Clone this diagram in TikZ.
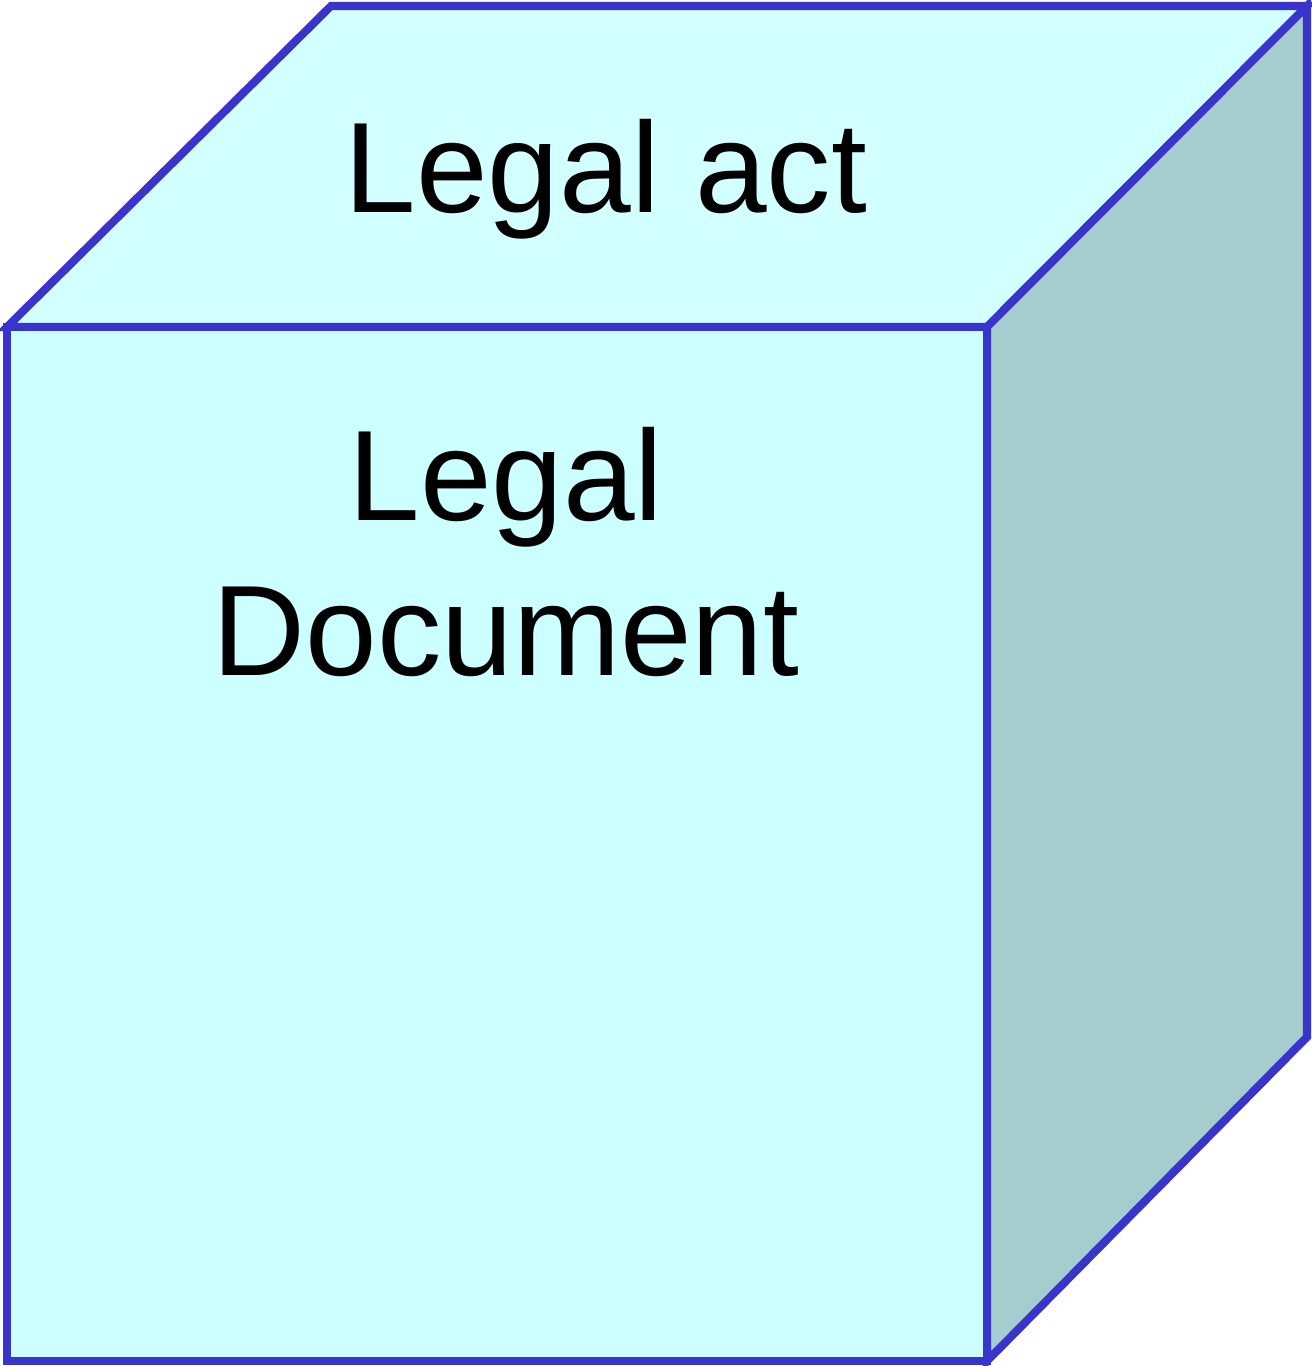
\documentclass[tikz,border=0pt]{standalone}
\usepackage{fontspec}
\setmainfont{Liberation Sans}
\usepackage{tikz}
\definecolor{edgeblue}{RGB}{56,52,204}
\definecolor{frontcyan}{RGB}{204,255,255}
\definecolor{topcyan}{RGB}{210,255,255}
\definecolor{sidegrey}{RGB}{166,205,205}
\tikzstyle{face} = [line width=2.3pt, draw=edgeblue, line join=miter]
\tikzstyle{label} = [inner sep=0pt, anchor=base, font=\fontsize{36.6}{44}\selectfont, text=black]

\begin{document}
\begin{tikzpicture}[x=0.01cm, y=-0.01cm]
      \useasboundingbox (0, 0) rectangle (1312, 1366);
      \filldraw[face, fill = topcyan]   (7, 327) -- (331, 6) -- (1307, 6) -- (987, 327) -- cycle;
      \filldraw[face, fill = sidegrey]  (987, 327) -- (1307, 6) -- (1307, 1037) -- (987, 1361) -- cycle;
      \filldraw[face, fill = frontcyan] (7, 327) -- (987, 327) -- (987, 1361) -- (7, 1361) -- cycle;
      \node (act)  at (606, 212) [label] {Legal act};
      \node (doc1) at (506, 520) [label] {Legal};
      \node (doc2) at (506, 675) [label] {Document};
    \end{tikzpicture}
\end{document}
